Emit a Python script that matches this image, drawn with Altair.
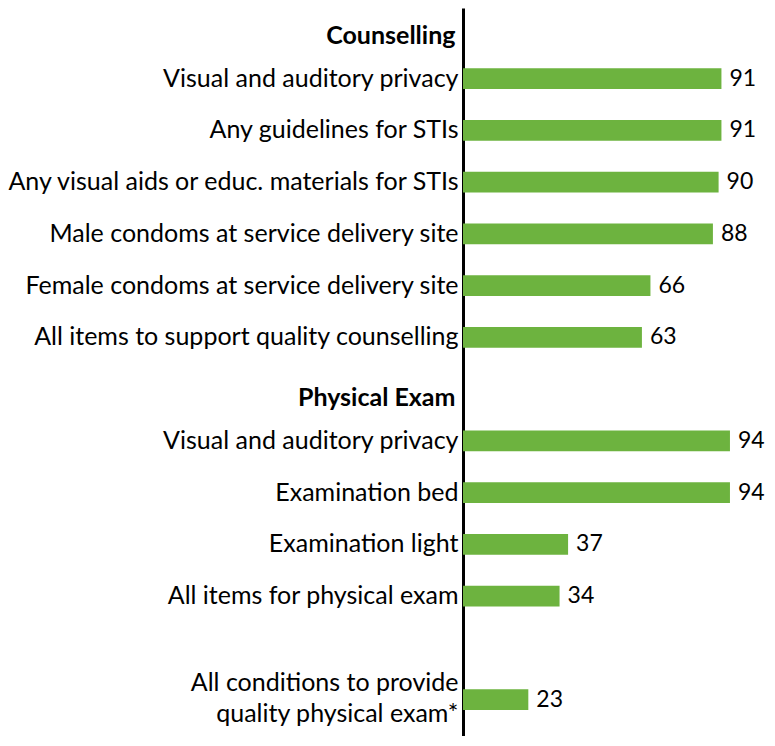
import altair as alt
import pandas as pd

labels = [
    "Counselling",
    "Visual and auditory privacy",
    "Any guidelines for STIs",
    "Any visual aids or educ. materials for STIs",
    "Male condoms at service delivery site",
    "Female condoms at service delivery site",
    "All items to support quality counselling",
    "Physical Exam",
    "Visual and auditory privacy ",
    "Examination bed",
    "Examination light",
    "All items for physical exam",
    "  ",
    "All conditions to provide|quality physical exam*",
]
values = [None, 91, 91, 90, 88, 66, 63, None, 94, 94, 37, 34, None, 23]

df = pd.DataFrame({"label": labels, "value": values})

FONT = "Lato"
GREEN = "#6db33f"
is_header = "datum.value == 'Counselling' || datum.value == 'Physical Exam'"
is_multi = "indexof(datum.value, '|') >= 0"

y = alt.Y(
    "label:N",
    scale=alt.Scale(domain=labels, paddingInner=0.6, paddingOuter=0.333, align=0.246),
    axis=alt.Axis(
        title=None,
        domainColor="black",
        domainWidth=3,
        ticks=False,
        labelFont=FONT,
        labelFontSize=25,
        labelColor="black",
        labelLimit=0,
        labelOverlap=False,
        labelLineHeight=31,
        labelExpr="split(trim(datum.label), '|')",
        labelPadding=alt.condition(is_header, alt.value(8), alt.value(5)),
        labelOffset={
            "condition": [
                {"test": is_header, "value": 9},
                {"test": is_multi, "value": -17},
            ],
            "value": 0,
        },
        labelFontWeight=alt.condition(is_header, alt.value("bold"), alt.value("normal")),
    ),
)

x = alt.X("value:Q", scale=alt.Scale(domain=[0, 100]), axis=None)

base = alt.Chart(df).transform_filter("isValid(datum.value)")

bars = base.mark_bar(color=GREEN).encode(x=x, y=y)
text = base.mark_text(
    align="left", baseline="middle", dx=8, font=FONT, fontSize=23, color="black"
).encode(x=x, y=y, text="value:Q")

chart = (
    alt.layer(bars, text)
    .properties(
        width=284,
        height=728,
        autosize=alt.AutoSizeParams(type="none"),
        padding={"left": 455, "top": 0, "right": 20, "bottom": 0},
    )
    .configure_view(stroke=None)
)

chart.save("out.html", embed_options={"renderer": "svg", "actions": False})
